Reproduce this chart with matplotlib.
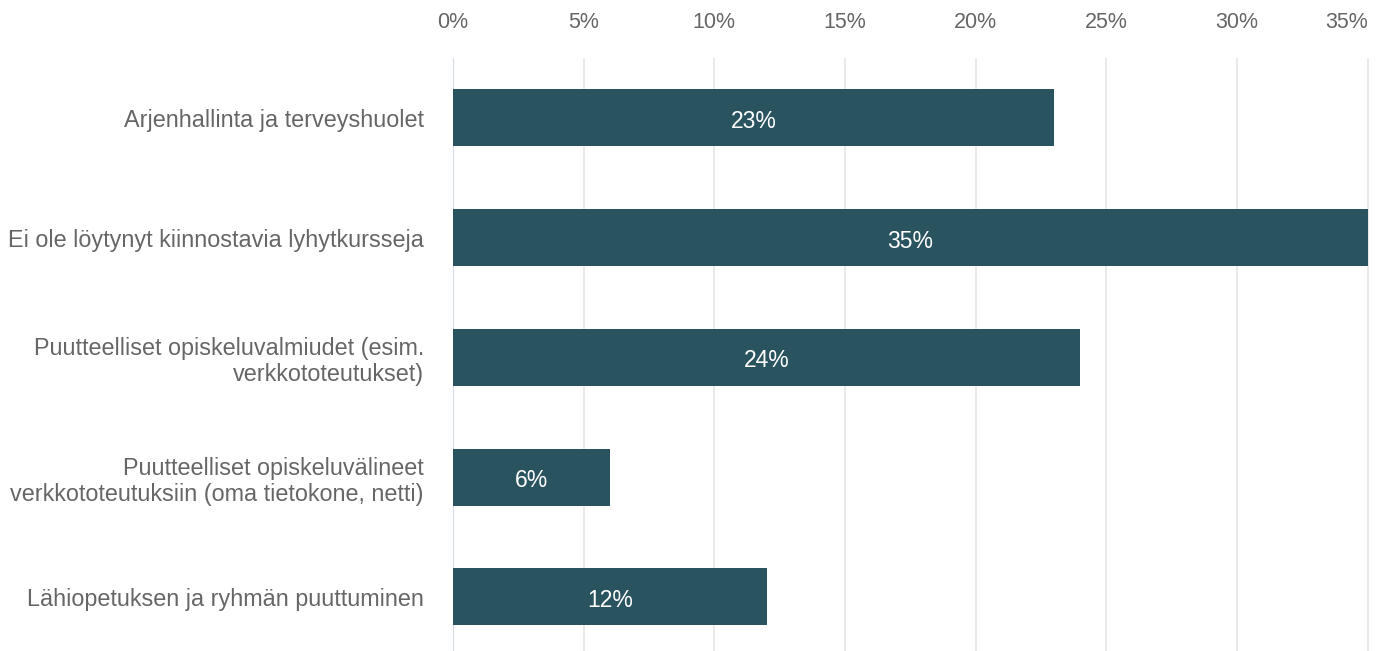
import matplotlib.pyplot as plt

categories = [
    "Arjenhallinta ja terveyshuolet",
    "Ei ole löytynyt kiinnostavia lyhytkursseja",
    "Puutteelliset opiskeluvalmiudet (esim.\nverkkototeutukset)",
    "Puutteelliset opiskeluvälineet\nverkkototeutuksiin (oma tietokone, netti)",
    "Lähiopetuksen ja ryhmän puuttuminen",
]
values = [23, 35, 24, 6, 12]
ticks = [0, 5, 10, 15, 20, 25, 30, 35]

plt.rcParams['font.family'] = ['Liberation Sans', 'DejaVu Sans']

fig = plt.figure(figsize=(13.86, 6.51), dpi=100)
ax = fig.add_axes([0.3268, 0.0, 0.661, 0.911])

pos = list(range(len(categories)))
bars = ax.barh(pos, values, height=0.476, color='#29535f', zorder=3)

for p, v in zip(pos, values):
    ax.text(v / 2, p + 0.03, f"{v}%", ha='center', va='center', color='white', fontsize=16.5, zorder=4)

ax.set_xlim(0, 35.05)
ax.set_ylim(4.452, -0.5)
ax.set_xticks(ticks)
ax.set_xticklabels([f"{t}%" for t in ticks])
ax.xaxis.tick_top()
ax.set_yticks(pos)
ax.set_yticklabels(categories, ha='right', multialignment='right', linespacing=1.2)

ax.tick_params(axis='x', length=0, pad=18, labelsize=15.5, labelcolor='#666666')
ax.tick_params(axis='y', length=0, pad=21, labelsize=16.8, labelcolor='#666666')
ax.get_xticklabels()[-1].set_ha('right')

ax.grid(axis='x', color='#e6e6e6', linewidth=1.2, zorder=0)
ax.axvline(0, color='#d3dae8', linewidth=1.5, zorder=2)
for s in ax.spines.values():
    s.set_visible(False)

fig.savefig("out.png", dpi=100)
